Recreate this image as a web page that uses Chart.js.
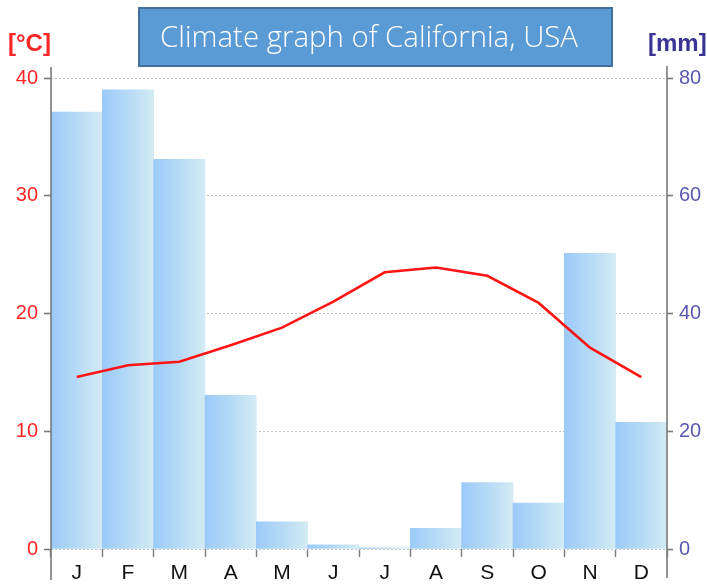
<!DOCTYPE html>
<html>
<head>
<meta charset="utf-8">
<script src="https://cdn.jsdelivr.net/npm/chart.js@4/dist/chart.umd.min.js"></script>
<style>
  html, body { margin: 0; padding: 0; background: #ffffff; }
  #wrap { position: relative; width: 707px; height: 585px; }
</style>
</head>
<body>
<div id="wrap"><canvas id="climate" width="707" height="585"></canvas></div>
<script>
// Monthly climate normals
const months = ['J', 'F', 'M', 'A', 'M', 'J', 'J', 'A', 'S', 'O', 'N', 'D'];
const temperatureC = [14.6, 15.6, 15.9, 17.3, 18.8, 21.0, 23.5, 23.9, 23.2, 20.9, 17.1, 14.6];
const precipitationMm = [74.2, 78.0, 66.2, 26.1, 4.6, 0.7, 0.2, 3.5, 11.3, 7.8, 50.2, 21.5];
const tempTicks = [0, 10, 20, 30, 40];
const precipTicks = [0, 20, 40, 60, 80];

const titleText = 'Climate graph of California, USA';
const tempUnit = '[°C]';
const precipUnit = '[mm]';

const FONT = '"Liberation Sans", Arial, sans-serif';
const RED = '#ff2626';
const BLUE_TICK = '#5858b0';
const BLUE_UNIT = '#3a3494';
const AXIS_GREY = '#7a7a7a';

// Horizontal gradient for each bar, spanning one category slot
function barGradient(ctx) {
  const chart = ctx.chart;
  const x = chart.scales.x;
  if (!chart.chartArea || !x || ctx.dataIndex === undefined) return '#aed4f8';
  const c = x.getPixelForValue(ctx.dataIndex);
  const half = x.width / months.length / 2;
  const g = chart.ctx.createLinearGradient(c - half, 0, c + half, 0);
  g.addColorStop(0, '#9bcaf9');
  g.addColorStop(0.5, '#b5daf6');
  g.addColorStop(1, '#d3ebf4');
  return g;
}

// Title box, unit labels and long axis lines
const decorations = {
  id: 'decorations',
  afterDraw(chart) {
    const ctx = chart.ctx;
    const yl = chart.scales.yT;
    const yr = chart.scales.yP;
    const top = yl.getPixelForValue(40);
    const bottom = yl.getPixelForValue(0);

    ctx.save();
    // vertical axis lines reaching past the plot
    ctx.strokeStyle = AXIS_GREY;
    ctx.lineWidth = 1.6;
    ctx.beginPath();
    ctx.moveTo(yl.right, top - 11);
    ctx.lineTo(yl.right, bottom + 31);
    ctx.moveTo(yr.left, top - 12);
    ctx.lineTo(yr.left, bottom + 29);
    ctx.stroke();

    // unit labels
    ctx.font = 'bold 24px ' + FONT;
    ctx.textBaseline = 'alphabetic';
    ctx.textAlign = 'left';
    ctx.fillStyle = RED;
    ctx.fillText(tempUnit, 8, 51);
    ctx.fillStyle = BLUE_UNIT;
    ctx.fillText(precipUnit, 648, 51);

    // title box
    ctx.fillStyle = '#5b9bd5';
    ctx.fillRect(139, 8, 473, 58);
    ctx.strokeStyle = '#41719c';
    ctx.lineWidth = 2;
    ctx.strokeRect(139, 8, 473, 58);

    ctx.fillStyle = '#ffffff';
    let size = 28;
    ctx.font = '300 ' + size + 'px "Open Sans", "DejaVu Sans", sans-serif';
    const w = ctx.measureText(titleText).width;
    size = size * 418 / w;
    ctx.font = '300 ' + size.toFixed(2) + 'px "Open Sans", "DejaVu Sans", sans-serif';
    ctx.textAlign = 'center';
    ctx.textBaseline = 'alphabetic';
    ctx.fillText(titleText, 369, 47);
    ctx.restore();
  }
};

new Chart(document.getElementById('climate'), {
  data: {
    labels: months,
    datasets: [
      {
        type: 'line',
        label: 'Temperature',
        data: temperatureC,
        yAxisID: 'yT',
        borderColor: '#ff1414',
        borderWidth: 2.6,
        pointRadius: 0,
        tension: 0,
        fill: false,
        order: 0
      },
      {
        type: 'bar',
        label: 'Precipitation',
        data: precipitationMm,
        yAxisID: 'yP',
        backgroundColor: barGradient,
        borderWidth: 0,
        barPercentage: 1.0,
        categoryPercentage: 1.0,
        order: 1
      }
    ]
  },
  options: {
    responsive: false,
    devicePixelRatio: 1,
    animation: false,
    layout: { padding: { top: 78, left: 0, right: 0, bottom: 0 } },
    plugins: {
      legend: { display: false },
      tooltip: { enabled: false },
      title: { display: false }
    },
    scales: {
      x: {
        position: 'bottom',
        offset: true,
        border: { display: false },
        grid: {
          offset: true,
          drawOnChartArea: false,
          drawTicks: true,
          tickLength: 8,
          tickColor: AXIS_GREY,
          tickWidth: 1.4
        },
        ticks: {
          color: '#111111',
          font: { family: FONT, size: 21 },
          padding: 4,
          maxRotation: 0,
          autoSkip: false
        },
        afterFit(scale) { scale.height = 36; }
      },
      yT: {
        position: 'left',
        min: 0,
        max: 40,
        afterBuildTicks(scale) { scale.ticks = tempTicks.map(v => ({ value: v })); },
        border: { display: false, dash: [2, 2] },
        grid: {
          color: '#c4c4c4',
          lineWidth: 1,
          tickLength: 7,
          tickColor: AXIS_GREY,
          tickWidth: 1.6,
          tickBorderDash: []
        },
        ticks: {
          color: RED,
          font: { family: FONT, size: 20 },
          padding: 6
        },
        afterFit(scale) { scale.width = 51; }
      },
      yP: {
        position: 'right',
        min: 0,
        max: 80,
        afterBuildTicks(scale) { scale.ticks = precipTicks.map(v => ({ value: v })); },
        border: { display: false },
        grid: {
          drawOnChartArea: false,
          tickLength: 6,
          tickColor: AXIS_GREY,
          tickWidth: 1.6
        },
        ticks: {
          color: BLUE_TICK,
          font: { family: FONT, size: 20 },
          padding: 6
        },
        afterFit(scale) { scale.width = 40; }
      }
    }
  },
  plugins: [decorations]
});
</script>
</body>
</html>
